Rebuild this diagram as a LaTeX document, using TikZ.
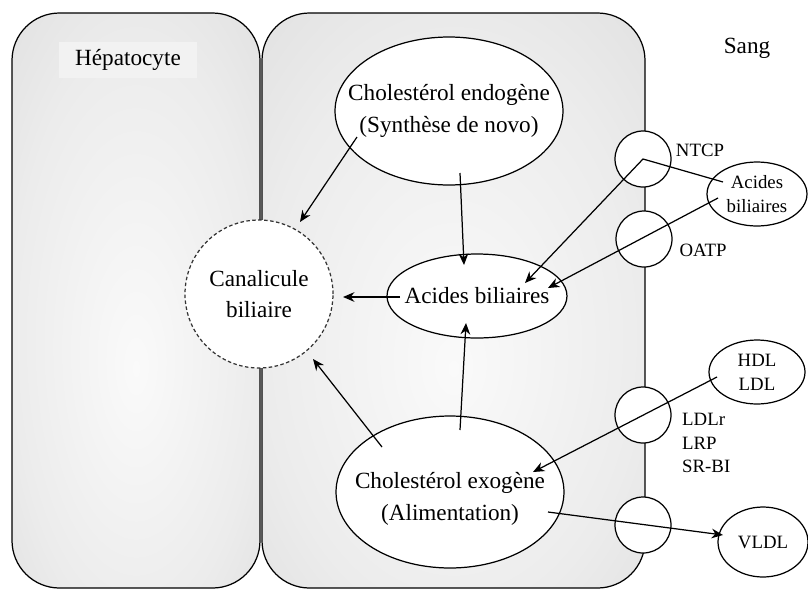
\documentclass[tikz,border=0pt]{standalone}
\usepackage{fontspec}
\setmainfont{Liberation Serif}
\usetikzlibrary{shapes.geometric, arrows.meta}

\pgfdeclareradialshading{cellglow}{\pgfpoint{0bp}{-6bp}}{%
  color(0bp)=(gray!4); color(25bp)=(gray!15); color(40bp)=(gray!25); color(50bp)=(gray!26)}

\begin{document}
\begin{tikzpicture}[x=0.02cm, y=-0.02cm,
    cell/.style={draw, line width=0.7pt, rounded corners=0.95cm, shading=cellglow},
    blob/.style={ellipse, draw, line width=0.7pt, fill=white, inner sep=0pt},
    pore/.style={circle, draw, line width=0.7pt, fill=white, minimum size=1.12cm, inner sep=0pt},
    lbl/.style={font=\fontsize{13.2}{18}\selectfont, align=center},
    small/.style={font=\fontsize{10.7}{13.6}\selectfont, align=left},
    arr/.style={line width=0.7pt, -{Stealth[length=6.5pt, width=5.5pt]}}]
    \useasboundingbox (0,0) rectangle (808,589);

    % the two cells
    \draw[cell] (12,13) rectangle (260,588);
    \draw[cell] (262,13) rectangle (645,588);
    \node[lbl, fill=gray!10, inner xsep=9pt, inner ysep=4pt] (hepa) at (128,60) {Hépatocyte};
    \node[lbl] (sang) at (747,48) {Sang};

    % inside the cell
    \node[circle, draw=gray!40!black, dash pattern=on 2pt off 1.4pt, line width=0.7pt,
          fill=white, minimum size=2.96cm, lbl] (cana) at (259,294) {Canalicule\\biliaire};
    \node[blob, minimum width=4.56cm, minimum height=2.96cm,
          label={[lbl]center:Cholestérol endogène\\(Synthèse de novo)}] (endo) at (449,111) {};
    \node[blob, minimum width=3.6cm, minimum height=1.68cm,
          label={[lbl]center:Acides biliaires}] (acid) at (477,296) {};
    \node[blob, minimum width=4.56cm, minimum height=3.04cm,
          label={[lbl, yshift=-4pt]center:Cholestérol exogène\\(Alimentation)}] (exo) at (450,492) {};

    % transporters
    \node[pore] (ntcp) at (643,159) {};
    \node[pore] (oatp) at (644,239) {};
    \node[pore] (ldlr) at (643,415) {};
    \node[pore] (vldlp) at (643,525) {};
    \node[small] (ntcplbl) at (700,150) {NTCP};
    \node[small] (oatplbl) at (703,250) {OATP};
    \node[small, anchor=west] (ldlrlbl) at (676,443) {LDLr\\LRP\\SR-BI};

    % blood side
    \node[blob, small, align=center, minimum width=2cm, minimum height=1.28cm] (bileB) at (757,194) {Acides\\biliaires};
    \node[blob, small, align=center, minimum width=1.92cm, minimum height=1.28cm] (hdl) at (757,372) {HDL\\LDL};
    \node[blob, small, minimum width=1.8cm, minimum height=1.4cm] (vldl) at (763,542) {VLDL};

    % fluxes
    \draw[arr] ([shift={(-92,26)}]endo.center) -- ([shift={(41,-72)}]cana.center);
    \draw[arr] ([shift={(11,62)}]endo.center) -- ([shift={(-13,-31)}]acid.center);
    \draw[arr] ([shift={(-77,1)}]acid.center) -- ([shift={(84,3)}]cana.center);
    \draw[arr] ([shift={(-68,-45)}]exo.center) -- ([shift={(54,65)}]cana.center);
    \draw[arr] ([shift={(10,-62)}]exo.center) -- ([shift={(-11,27)}]acid.center);
    \draw[arr] ([shift={(-34,-12)}]bileB.center) -- (ntcp.center) -- ([shift={(48,-13)}]acid.center);
    \draw[arr] ([shift={(-39,4)}]bileB.center) -- ([shift={(71,-8)}]acid.center);
    \draw[arr] ([shift={(-40,5)}]hdl.center) -- ([shift={(83,-20)}]exo.center);
    \draw[arr] ([shift={(98,20)}]exo.center) -- ([shift={(-40,-7)}]vldl.center);
\end{tikzpicture}
\end{document}
